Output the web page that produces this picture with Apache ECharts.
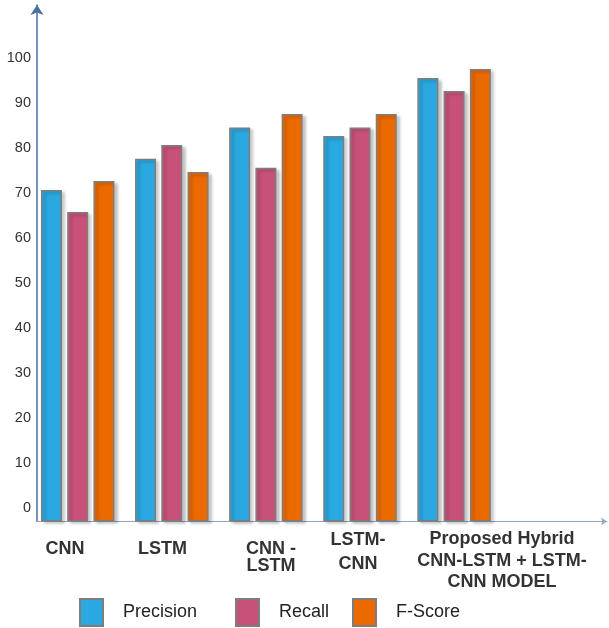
<!DOCTYPE html>
<html>
<head>
<meta charset="utf-8">
<script src="https://cdn.jsdelivr.net/npm/echarts@6/dist/echarts.min.js"></script>
<style>
  html, body { margin: 0; padding: 0; background: #fff; }
  #chart { width: 609px; height: 628px; }
</style>
</head>
<body>
<div id="chart"></div>
<script>
// Model comparison data
const models = ['CNN', 'LSTM', 'CNN -\nLSTM', 'LSTM-\nCNN', 'Proposed Hybrid\nCNN-LSTM + LSTM-\nCNN MODEL'];
const precision = [70.7, 77.6, 84.6, 82.7, 95.6];
const recall = [65.8, 80.7, 75.6, 84.6, 92.7];
const fscore = [72.7, 74.7, 87.6, 87.6, 97.6];
const yTicks = [0, 10, 20, 30, 40, 50, 60, 70, 80, 90, 100];

const seriesNames = ['Precision', 'Recall', 'F-Score'];
const seriesColors = ['#2aa8e0', '#c8517a', '#eb6a00'];
const seriesData = [precision, recall, fscore];

// per-label text box tweaks (horizontal / vertical placement under each group)
const labelBox = [
  { padding: [12, 39, 0, 0], lineHeight: 17 },
  { padding: [12, 34, 0, 0], lineHeight: 17 },
  { padding: [12, 7, 0, 0], lineHeight: 17 },
  { padding: [0, 23, 0, 0], lineHeight: 23.5 },
  { padding: [0, 0, 0, 75], lineHeight: 21.5 }
];

const chart = echarts.init(document.getElementById('chart'), null, { renderer: 'canvas' });

const barStyle = (color) => ({
  color: color,
  borderColor: '#7d7d7d',
  borderWidth: 1.5,
  shadowColor: 'rgba(0,0,0,0.22)',
  shadowBlur: 3,
  shadowOffsetX: 3,
  shadowOffsetY: 2
});

const legendAt = [79, 235, 352];

// label axis: one band per model plus an empty trailing band
const labelCategories = models.map((m, i) => ({ value: m, textStyle: labelBox[i] }));
labelCategories.push({ value: '' });

chart.setOption({
  animation: false,
  backgroundColor: '#ffffff',
  textStyle: { fontFamily: 'Liberation Sans, Arial, sans-serif' },
  grid: { left: 37, right: 2, top: 5, bottom: 106.5, outerBoundsMode: 'none', containLabel: false },
  legend: seriesNames.map((name, i) => ({
    data: [name],
    left: legendAt[i],
    top: 598,
    padding: 0,
    itemWidth: 23,
    itemHeight: 27,
    icon: 'rect',
    textStyle: { fontSize: 18, color: '#222', padding: [4, 0, 0, 15] }
  })),
  xAxis: [
    {
      type: 'value',
      min: -0.4325,
      max: 5.625,
      splitLine: { show: false },
      axisTick: { show: false },
      axisLabel: { show: false },
      axisLine: {
        show: true,
        onZero: false,
        symbol: ['none', 'arrow'],
        symbolSize: [6, 6],
        lineStyle: { color: '#8fa8cc', width: 1.2 }
      }
    },
    {
      type: 'category',
      position: 'bottom',
      data: labelCategories,
      boundaryGap: true,
      axisLine: { show: false },
      axisTick: { show: false },
      splitLine: { show: false },
      axisLabel: {
        interval: 0,
        margin: 7,
        fontSize: 18,
        fontWeight: 'bold',
        color: '#333',
        align: 'center',
        verticalAlign: 'top'
      }
    }
  ],
  yAxis: {
    type: 'value',
    min: -3,
    max: 111.8,
    startValue: -3,
    splitLine: { show: false },
    axisTick: { show: false },
    axisLine: {
      show: true,
      onZero: false,
      symbol: ['none', 'arrow'],
      symbolSize: [10, 10],
      lineStyle: { color: '#4a6fa5', width: 1.5 }
    },
    axisLabel: {
      customValues: yTicks,
      fontSize: 14.5,
      color: '#333',
      margin: 6
    }
  },
  series: seriesNames.map((name, s) => ({
    name: name,
    type: 'bar',
    xAxisIndex: 0,
    barWidth: 21,
    barGap: '25%',
    itemStyle: barStyle(seriesColors[s]),
    data: seriesData[s].map((v, i) => [i, v])
  }))
});
</script>
</body>
</html>
